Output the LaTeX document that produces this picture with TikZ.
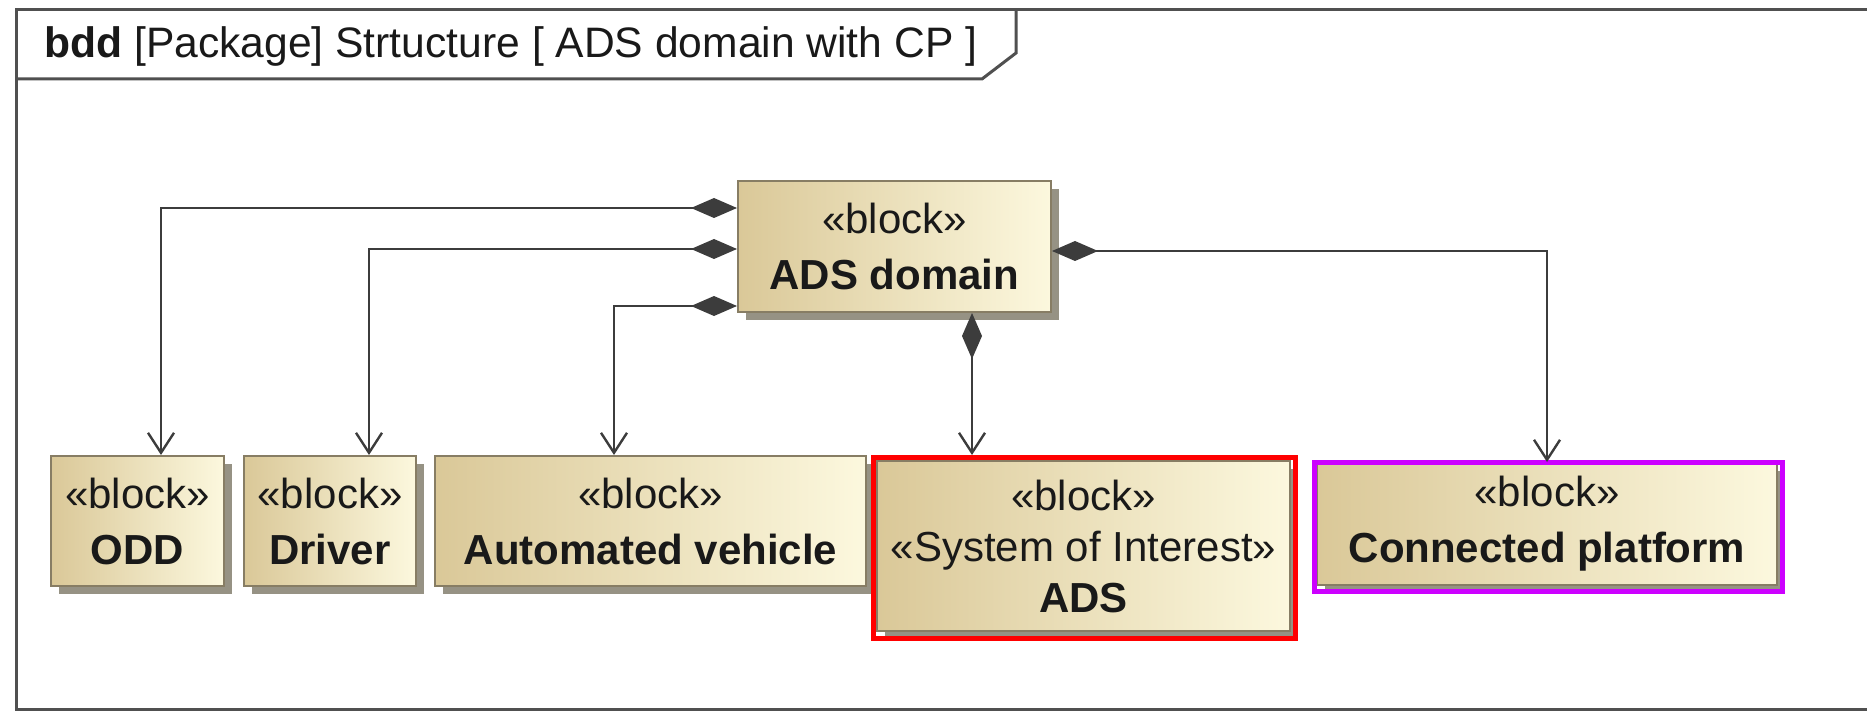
\documentclass[tikz,border=0pt]{standalone}
\usepackage{fontspec}
\setmainfont{Liberation Sans}
\usetikzlibrary{arrows.meta,shadows}
\definecolor{linec}{RGB}{60,60,60}
\definecolor{framec}{RGB}{80,80,80}
\definecolor{blockdark}{RGB}{218,200,152}
\definecolor{blocklight}{RGB}{252,248,222}
\definecolor{blockborder}{RGB}{135,125,100}
\definecolor{shadowc}{RGB}{150,146,132}
\definecolor{hlred}{RGB}{255,0,0}
\definecolor{hlpurple}{RGB}{204,0,255}
\tikzset{
  blockbox/.style={draw=blockborder, line width=1pt, left color=blockdark, right color=blocklight,
    drop shadow={shadow xshift=4pt, shadow yshift=-4pt, fill=shadowc, opacity=1},
    align=center, inner sep=0pt, text=black!90,
    font=\fontsize{21}{28}\selectfont},
  comp/.style={draw=linec, line width=1.4pt,
    {Diamond[length=23pt,width=10pt,fill=linec]}-{Straight Barb[length=10pt,width=13pt,line width=1.2pt]}},
  framel/.style={draw=framec, line width=1.5pt},
  hlbox/.style={line width=2.5pt}
}
\begin{document}
\begin{tikzpicture}[x=0.5pt,y=-0.5pt]
\useasboundingbox (0,0) rectangle (1867,711);
% frame
\draw[framel] (1867,10) -- (16,10) -- (16,709) -- (1867,709);
\draw[framel] (16,79) -- (982,79) -- (1016,53) -- (1016,10);
\node[anchor=base west, inner sep=0pt, font=\fontsize{21.3}{26}\selectfont, text=black!90] (title) at (44,58)
  {\textbf{bdd} [Package] Strtucture [ ADS domain with CP ]};
% blocks
\node[blockbox, minimum width=156.5pt, minimum height=65.5pt] (dom) at (894.5,246.5) {«block»\\\textbf{ADS domain}};
\node[blockbox, minimum width=86.5pt, minimum height=65pt] (odd) at (137.5,521) {«block»\\\textbf{ODD}};
\node[blockbox, minimum width=86pt, minimum height=65pt] (drv) at (330,521) {«block»\\\textbf{Driver}};
\node[blockbox, minimum width=215.5pt, minimum height=65pt] (av) at (650.5,521) {«block»\\\textbf{Automated vehicle}};
\node[blockbox, minimum width=206.5pt, minimum height=85pt, font=\fontsize{21}{25.5}\selectfont] (ads) at (1083.5,546) {«block»\\«System of Interest»\\\textbf{ADS}};
\node[blockbox, minimum width=230pt, minimum height=61pt] (cp) at (1547,524) {«block»\\\textbf{Connected platform}};
% highlights
\draw[hlbox, hlred] ([shift={(-3,-3)}]ads.north west) rectangle ([shift={(4,6)}]ads.south east);
\draw[hlbox, hlpurple] ([shift={(-2,0)}]cp.north west) rectangle ([shift={(4,5)}]cp.south east);
% connectors
\coordinate (dombot) at ([xshift=117.5pt]dom.south west);
\coordinate (adstop) at ([yshift=2.5pt]ads.north);
\draw[comp] ([yshift=-14pt]dom.north west) -| ([xshift=11.75pt]odd.north);
\draw[comp] ([yshift=-34.5pt]dom.north west) -| ([xshift=19.5pt]drv.north);
\draw[comp] ([yshift=-63pt]dom.north west) -| ([xshift=-18.25pt]av.north);
\draw[comp] (dombot) -- (dombot |- adstop);
\draw[comp] ([yshift=-35.5pt]dom.north east) -| (cp.north);
\end{tikzpicture}
\end{document}
